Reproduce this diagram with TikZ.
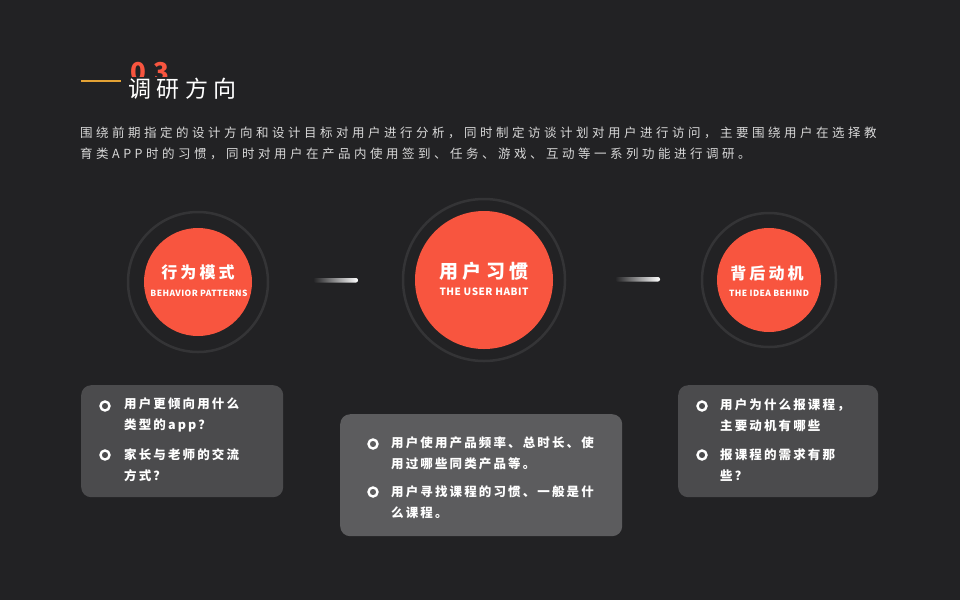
\documentclass[tikz,border=0pt]{standalone}
\usepackage{fontspec}
\setmainfont{Noto Sans CJK SC}
\usetikzlibrary{positioning}
\definecolor{bgdark}{HTML}{222224}
\definecolor{coral}{HTML}{F8553F}
\definecolor{ringgray}{HTML}{343436}
\definecolor{boxgray}{HTML}{4B4B4D}
\definecolor{boxlight}{HTML}{5C5C5E}
\definecolor{paragray}{HTML}{D8D8D8}
\definecolor{gold}{HTML}{E3A235}
\newcommand{\tracked}[2]{{\addfontfeature{LetterSpace=#1}#2}}
\begin{document}
\begin{tikzpicture}[x=1pt,y=-1pt,
  headdisc/.style={circle,fill=coral,inner sep=0pt},
  headring/.style={draw=ringgray,line width=2.5pt},
  disccn/.style={text=white,inner sep=0pt},
  discen/.style={text=white,inner sep=0pt,font=\bfseries\fontsize{8.5}{10}\selectfont},
  itembox/.style={rounded corners=10pt,inner sep=0pt,anchor=north west},
  bulletring/.style={circle,draw=white,line width=2.4pt,minimum size=9pt,inner sep=0pt},
  itemtext/.style={anchor=west,text=white,inner sep=0pt,align=left,
    font=\bfseries\fontsize{12.5}{21}\selectfont}]
 \fill[bgdark] (0,0) rectangle (960,600);
 \useasboundingbox (0,0) rectangle (960,600);
 % heading
 \begin{scope}
  \clip (120,50) rectangle (180,76);
  \node[text=coral,inner sep=0pt,font=\bfseries\fontsize{26}{26}\selectfont] (num) at (150,72) {\tracked{30}{03}};
 \end{scope}
 \coordinate (lineL) at (81,81);
 \coordinate (lineR) at (121,81);
 \draw[gold,line width=1.2pt] (lineL) -- (lineR);
 \node[anchor=west,text=white,inner sep=0pt,font=\fontsize{23}{23}\selectfont] (title) at (128,89) {\tracked{24}{调研方向}};
 \node[anchor=west,text=paragray,inner sep=0pt,align=left,font=\fontsize{12.5}{21}\selectfont] (intro) at (80,143)
  {\tracked{28}{围绕前期指定的设计方向和设计目标对用户进行分析，同时制定访谈计划对用户进行访问，主要围绕用户在选择教}\\
   \tracked{28}{育类APP时的习惯，同时对用户在产品内使用签到、任务、游戏、互动等一系列功能进行调研。}};
 % circles
 \node[headdisc,minimum size=108pt] (behavior) at (198,282) {};
 \node[headdisc,minimum size=138pt] (habit) at (484,280) {};
 \node[headdisc,minimum size=104pt] (motive) at (769,280) {};
 \draw[headring] (behavior.center) circle (70pt);
 \draw[headring] (habit.center) circle (81pt);
 \draw[headring] (motive.center) circle (67pt);
 \node[disccn,font=\bfseries\fontsize{16}{16}\selectfont] (behaviorcn) at (198,272) {\tracked{19}{行为模式}};
 \node[discen] (behavioren) at (199,293) {\tracked{5}{BEHAVIOR PATTERNS}};
 \node[disccn,font=\bfseries\fontsize{19}{19}\selectfont] (habitcn) at (484,271) {\tracked{24}{用户习惯}};
 \node[discen,font=\bfseries\fontsize{10}{12}\selectfont] (habiten) at (484,292) {\tracked{5}{THE USER HABIT}};
 \node[disccn,font=\bfseries\fontsize{16}{16}\selectfont] (motivecn) at (767,273) {\tracked{19}{背后动机}};
 \node[discen] (motiveen) at (769,293) {\tracked{5}{THE IDEA BEHIND}};
 % dashes between circles
 \shade[left color=bgdark,right color=white,rounded corners=2pt] (313,278) rectangle (358,282.5);
 \shade[left color=bgdark,right color=white,rounded corners=2pt] (615,277) rectangle (660,281.5);
 % boxes
 \node[itembox,fill=boxgray,minimum width=202pt,minimum height=112pt] (boxL) at (81,385) {};
 \node[itembox,fill=boxlight,minimum width=282pt,minimum height=122pt] (boxM) at (340,414) {};
 \node[itembox,fill=boxgray,minimum width=200pt,minimum height=112pt] (boxR) at (678,385) {};
 \node[bulletring] (dotL1) at (105,406) {};
 \node[bulletring] (dotL2) at (105,455) {};
 \node[bulletring] (dotM1) at (373,444) {};
 \node[bulletring] (dotM2) at (373,492) {};
 \node[bulletring] (dotR1) at (702,406) {};
 \node[bulletring] (dotR2) at (702,455) {};
 \node[itemtext] (itemL1) at (124,415) {\tracked{17}{用户更倾向用什么}\\\tracked{17}{类型的app？}};
 \node[itemtext] (itemL2) at (124,465) {\tracked{17}{家长与老师的交流}\\\tracked{17}{方式？}};
 \node[itemtext] (itemM1) at (391,453) {\tracked{17}{用户使用产品频率、总时长、使}\\\tracked{17}{用过哪些同类产品等。}};
 \node[itemtext] (itemM2) at (391,502) {\tracked{17}{用户寻找课程的习惯、一般是什}\\\tracked{17}{么课程。}};
 \node[itemtext] (itemR1) at (720,415) {\tracked{17}{用户为什么报课程，}\\\tracked{17}{主要动机有哪些}};
 \node[itemtext] (itemR2) at (720,465) {\tracked{17}{报课程的需求有那}\\\tracked{17}{些？}};
\end{tikzpicture}
\end{document}
